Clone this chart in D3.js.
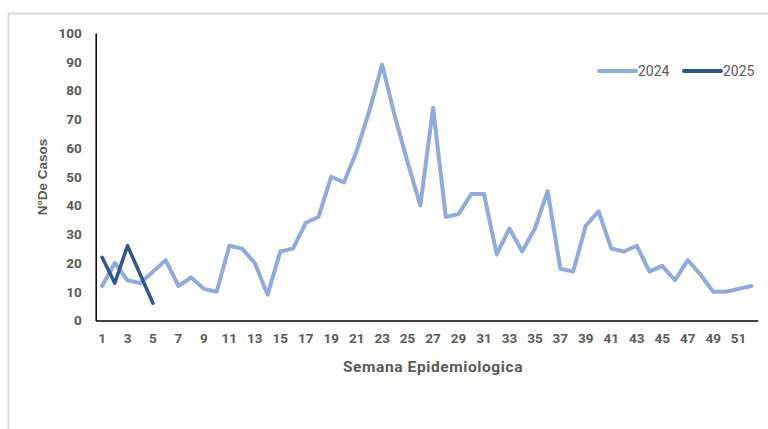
<!DOCTYPE html>
<html>
<head>
<meta charset="utf-8">
<script src="https://cdn.jsdelivr.net/npm/d3@7"></script>
<style>
  body { margin: 0; background: #fff; }
  svg { display: block; }
</style>
</head>
<body>
<svg id="chart" width="768" height="429"></svg>
<script>
// semanas epidemiologicas
var weeks = d3.range(1, 53)
var casos2024 = [12, 20, 14, 13, 17, 21, 12, 15, 11, 10, 26, 25, 20, 9, 24, 25, 34, 36, 50, 48,
                 59, 73, 89, 71, 55, 40, 74, 36, 37, 44, 44, 23, 32, 24, 32, 45, 18, 17, 33, 38,
                 25, 24, 26, 17, 19, 14, 21, 16, 10, 10, 11, 12]
var casos2025 = [22, 13, 26, 16, 6]
var yTicks = [0, 10, 20, 30, 40, 50, 60, 70, 80, 90, 100]
var xTicks = weeks.filter(w => w % 2 == 1)
var seriesNames = ['2024', '2025']
var colors = ['#8faadc', '#2f5597']

var svg = d3.select('#chart')

// marco gris
svg.append('rect')
  .attr('x', 8.5).attr('y', 13.5)
  .attr('width', 800).attr('height', 500)
  .attr('fill', 'none')
  .attr('stroke', '#d9d9d9')
  .attr('stroke-width', 2)

var plotLeft = 95.7, plotRight = 757.7, plotTop = 33, plotBottom = 320.5

var x = d3.scaleBand().domain(weeks).range([plotLeft, plotRight])
var y = d3.scaleLinear().domain([0, 100]).range([plotBottom, plotTop])

var xAxis = d3.axisBottom(x).tickValues(xTicks).tickSize(0).tickPadding(13)
var yAxis = d3.axisLeft(y).tickValues(yTicks).tickSize(0).tickPadding(14)

var gx = svg.append('g')
  .attr('transform', 'translate(0,' + plotBottom + ')')
  .call(xAxis)
gx.select('.domain').attr('stroke', '#000').attr('stroke-width', 1.5)
gx.selectAll('text')
  .attr('fill', '#595959')
  .style('font-family', 'Roboto, sans-serif')
  .style('font-weight', 'bold')
  .style('font-size', '13.5px')

var gy = svg.append('g')
  .attr('transform', 'translate(' + plotLeft + ',0)')
  .call(yAxis)
gy.select('.domain').attr('stroke', '#000').attr('stroke-width', 1.5)
gy.selectAll('text')
  .attr('fill', '#595959')
  .style('font-family', 'Roboto, sans-serif')
  .style('font-weight', 'bold')
  .style('font-size', '13.5px')

var line = d3.line()
  .x((d, i) => x(weeks[i]) + x.bandwidth() / 2)
  .y(d => y(d))

svg.append('path')
  .datum(casos2024)
  .attr('d', line)
  .attr('fill', 'none')
  .attr('stroke', colors[0])
  .attr('stroke-width', 4)
  .attr('stroke-linejoin', 'round')
  .attr('stroke-linecap', 'round')

svg.append('path')
  .datum(casos2025)
  .attr('d', line)
  .attr('fill', 'none')
  .attr('stroke', colors[1])
  .attr('stroke-width', 3.5)
  .attr('stroke-linejoin', 'round')
  .attr('stroke-linecap', 'round')

// titulos de ejes
svg.append('text')
  .attr('transform', 'translate(47,177) rotate(-90)')
  .attr('text-anchor', 'middle')
  .attr('fill', '#595959')
  .style('font-family', '"Liberation Sans", Arial, sans-serif')
  .style('font-weight', 'bold')
  .style('font-size', '13.5px')
  .text('N°De Casos')

svg.append('text')
  .attr('x', 433).attr('y', 372)
  .attr('text-anchor', 'middle')
  .attr('fill', '#595959')
  .style('font-family', 'Roboto, sans-serif')
  .style('font-weight', 'bold')
  .style('font-size', '15.5px')
  .style('letter-spacing', '0.6px')
  .text('Semana Epidemiologica')

// leyenda
var legendX = [599, 684]
seriesNames.forEach(function (name, i) {
  svg.append('line')
    .attr('x1', legendX[i]).attr('x2', legendX[i] + 37)
    .attr('y1', 71).attr('y2', 71)
    .attr('stroke', colors[i])
    .attr('stroke-width', 4)
    .attr('stroke-linecap', 'round')
  svg.append('text')
    .attr('x', legendX[i] + 39).attr('y', 76)
    .attr('fill', '#595959')
    .style('font-family', 'Roboto, sans-serif')
    .style('font-size', '14px')
    .text(name)
})
</script>
</body>
</html>
